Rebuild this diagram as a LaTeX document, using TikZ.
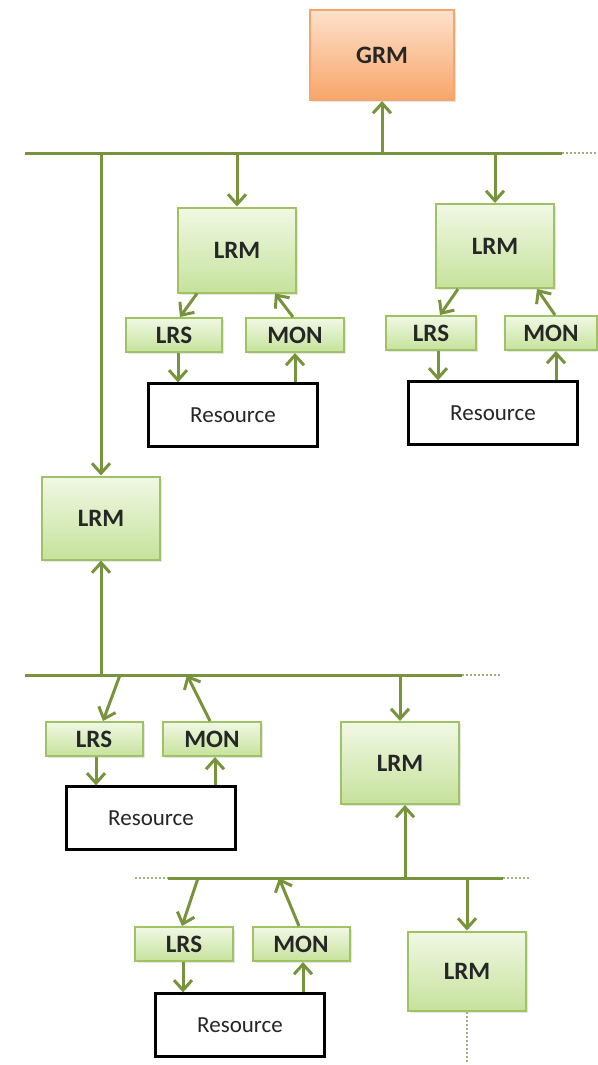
\documentclass[tikz,border=0pt]{standalone}
\usepackage{fontspec}
\setmainfont{Carlito}
\usepackage{tikz}
\usetikzlibrary{arrows.meta,shadows}
\definecolor{grmLine}{HTML}{77933C}
\definecolor{grmEdge}{HTML}{9FC264}
\definecolor{grmTop}{HTML}{F1F8E4}
\definecolor{grmBot}{HTML}{C6E29C}
\definecolor{orgEdge}{HTML}{F3A56C}
\definecolor{orgTop}{HTML}{FDE1CB}
\definecolor{orgBot}{HTML}{F8A56A}
\definecolor{txtDark}{HTML}{262626}
\tikzset{
  mgr/.style={
    draw=grmEdge,
    line width=2pt,
    top color=grmTop,
    bottom color=grmBot,
    inner sep=0pt,
    text=txtDark,
    font=\fontsize{25}{28}\selectfont\bfseries,
    drop shadow={shadow xshift=2pt,shadow yshift=-2pt,opacity=0.2}
  },
  small/.style={mgr, minimum height=34pt},
  big/.style={mgr, minimum width=118pt},
  head/.style={
    draw=orgEdge,
    line width=2pt,
    top color=orgTop,
    bottom color=orgBot,
    inner sep=0pt,
    text=txtDark,
    font=\fontsize{25}{28}\selectfont\bfseries,
    drop shadow={shadow xshift=2pt,shadow yshift=-2pt,opacity=0.2}
  },
  res/.style={
    draw=black,
    line width=2.2pt,
    fill=white,
    inner sep=0pt,
    minimum width=169pt,
    minimum height=63pt,
    text=txtDark,
    font=\fontsize{23}{26}\selectfont
  },
  flow/.style={-{Straight Barb[length=10pt,width=18pt]}, line width=3pt, draw=grmLine},
  bus/.style={line width=3pt, draw=grmLine},
  busdots/.style={line width=2.6pt, draw=grmLine!70, dash pattern=on 2pt off 2pt}
}

\begin{document}
\begin{tikzpicture}[x=1pt,y=-1pt]
  \useasboundingbox (0,0) rectangle (597,1065);

  % buses
  \coordinate (b1w) at (25,153);
  \coordinate (b1e) at (562,153);
  \coordinate (b1d) at (597,153);
  \coordinate (b2w) at (25,675);
  \coordinate (b2e) at (462,675);
  \coordinate (b2d) at (500,675);
  \coordinate (b3d) at (135,878);
  \coordinate (b3w) at (168,878);
  \coordinate (b3e) at (503,878);
  \coordinate (b3f) at (530,878);
  \coordinate (tail) at (467,1062);

  % nodes
  \node[head, minimum width=144pt, minimum height=90pt] (grm) at (382,55) {GRM};

  \node[big, minimum height=85pt] (lrm1) at (237,250) {LRM};
  \node[small, minimum width=96pt] (lrs1) at (174,335) {LRS};
  \node[small, minimum width=98pt] (mon1) at (295,335) {MON};
  \node[res] (res1) at (233,415) {Resource};

  \node[big, minimum height=84pt] (lrm2) at (495,246) {LRM};
  \node[small, minimum width=90pt] (lrs2) at (431,333) {LRS};
  \node[small, minimum width=92pt] (mon2) at (551,333) {MON};
  \node[res] (res2) at (493,413) {Resource};

  \node[big, minimum height=83pt] (lrm3) at (101,518) {LRM};

  \node[small, minimum width=97pt] (lrs3) at (94,739) {LRS};
  \node[small, minimum width=98pt] (mon3) at (212,739) {MON};
  \node[res] (res3) at (151,818) {Resource};
  \node[big, minimum height=82pt] (lrm4) at (400,763) {LRM};

  \node[small, minimum width=98pt] (lrs4) at (184,944) {LRS};
  \node[small, minimum width=97pt] (mon4) at (301,944) {MON};
  \node[res] (res4) at (240,1025) {Resource};
  \node[big, minimum height=79pt] (lrm5) at (467,971) {LRM};

  % bus lines
  \draw[bus] (b1w) -- (b1e);
  \draw[busdots] (b1e) -- (b1d);
  \draw[bus] (b2w) -- (b2e);
  \draw[busdots] (b2e) -- (b2d);
  \draw[busdots] (b3d) -- (b3w);
  \draw[bus] (b3w) -- (b3e);
  \draw[busdots] (b3e) -- (b3f);
  \draw[busdots] (lrm5.south) -- (tail);

  % top level
  \draw[flow] (grm.south |- b1w) -- (grm.south);
  \draw[flow] (lrm1.north |- b1w) -- (lrm1.north);
  \draw[flow] (lrm2.north |- b1w) -- (lrm2.north);
  \draw[flow] (lrm3.north |- b1w) -- (lrm3.north);

  \draw[flow] ([xshift=-40pt]lrm1.south) -- ([xshift=6pt]lrs1.north);
  \draw[flow] ([xshift=-2pt]mon1.north) -- ([xshift=38pt]lrm1.south);
  \draw[flow] ([xshift=4pt]lrs1.south) -- ([xshift=4pt]lrs1.south |- res1.north);
  \draw[flow] (mon1.south |- res1.north) -- (mon1.south);

  \draw[flow] ([xshift=-37pt]lrm2.south) -- ([xshift=9pt]lrs2.north);
  \draw[flow] ([xshift=4pt]mon2.north) -- ([xshift=42pt]lrm2.south);
  \draw[flow] ([xshift=7pt]lrs2.south) -- ([xshift=7pt]lrs2.south |- res2.north);
  \draw[flow] ([xshift=5pt]mon2.south |- res2.north) -- ([xshift=5pt]mon2.south);

  % middle level
  \draw[flow] (lrm3.south |- b2w) -- (lrm3.south);
  \draw[flow] ([xshift=26pt]lrs3.north |- b2w) -- ([xshift=9pt]lrs3.north);
  \draw[flow] ([xshift=-2pt]mon3.north) -- ([xshift=-25pt]mon3.north |- b2w);
  \draw[flow] ([xshift=2pt]lrs3.south) -- ([xshift=2pt]lrs3.south |- res3.north);
  \draw[flow] ([xshift=3pt]mon3.south |- res3.north) -- ([xshift=3pt]mon3.south);
  \draw[flow] (lrm4.north |- b2w) -- (lrm4.north);

  % bottom level
  \draw[flow] ([xshift=5pt]lrm4.south |- b3w) -- ([xshift=5pt]lrm4.south);
  \draw[flow] ([xshift=14pt]lrs4.north |- b3w) -- ([xshift=-2pt]lrs4.north);
  \draw[flow] ([xshift=-2pt]mon4.north) -- ([xshift=-22pt]mon4.north |- b3w);
  \draw[flow] ([xshift=-1pt]lrs4.south) -- ([xshift=-1pt]lrs4.south |- res4.north);
  \draw[flow] ([xshift=2pt]mon4.south |- res4.north) -- ([xshift=2pt]mon4.south);
  \draw[flow] (lrm5.north |- b3w) -- (lrm5.north);
\end{tikzpicture}
\end{document}
